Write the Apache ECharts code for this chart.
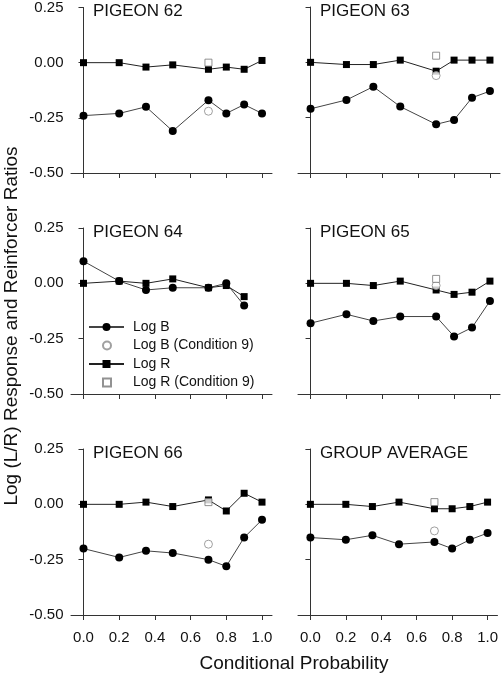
<!DOCTYPE html>
<html>
<head>
<meta charset="utf-8">
<script src="https://cdn.jsdelivr.net/npm/echarts@6/dist/echarts.min.js"></script>
<style>html,body{margin:0;padding:0;background:#fff}#c{width:501px;height:677px}</style>
</head>
<body>
<div id="c"></div>
<script>
// Conditional probability values (x)
const xVals = [0, 0.2, 0.35, 0.5, 0.7, 0.8, 0.9, 1.0];
const xTicks = [0, 0.2, 0.4, 0.6, 0.8, 1.0];
const yTicks = [-0.5, -0.25, 0, 0.25];
const panelTitles = ['PIGEON 62', 'PIGEON 63', 'PIGEON 64', 'PIGEON 65', 'PIGEON 66', 'GROUP AVERAGE'];

// Log B (response ratios)
const logB62 = [-0.24, -0.23, -0.20, -0.31, -0.17, -0.23, -0.19, -0.23];
const logB63 = [-0.21, -0.17, -0.11, -0.20, -0.28, -0.26, -0.16, -0.13];
const logB64 = [0.10, 0.01, -0.03, -0.02, -0.02, 0.00, -0.10];
const logB65 = [-0.18, -0.14, -0.17, -0.15, -0.15, -0.24, -0.20, -0.08];
const logB66 = [-0.20, -0.24, -0.21, -0.22, -0.25, -0.28, -0.15, -0.07];
const logBAvg = [-0.15, -0.16, -0.14, -0.18, -0.17, -0.20, -0.16, -0.13];

// Log R (reinforcer ratios)
const logR62 = [0.00, 0.00, -0.02, -0.01, -0.03, -0.02, -0.03, 0.01];
const logR63 = [0.00, -0.01, -0.01, 0.01, -0.04, 0.01, 0.01, 0.01];
const logR64 = [0.00, 0.01, 0.00, 0.02, -0.02, -0.01, -0.06];
const logR65 = [0.00, 0.00, -0.01, 0.01, -0.03, -0.05, -0.04, 0.01];
const logR66 = [0.00, 0.00, 0.01, -0.01, 0.02, -0.03, 0.05, 0.01];
const logRAvg = [0.00, 0.00, -0.01, 0.01, -0.02, -0.02, -0.01, 0.01];

// Condition 9 (at conditional probability 0.7)
const cond9X = 0.7;
const cond9B = [-0.22, -0.06, null, -0.01, -0.18, -0.12];
const cond9R = [0.00, 0.03, null, 0.02, 0.01, 0.01];

const logB = [logB62, logB63, logB64, logB65, logB66, logBAvg];
const logR = [logR62, logR63, logR64, logR65, logR66, logRAvg];

const rowTops = [7, 228, 449];
const gridH = 166;
const colLefts = [71, 298];
const colWidths = [201, 202];
const titleLefts = [93, 320];
const FONT = 'Liberation Sans, Arial';

const grids = [], xAxes = [], yAxes = [], series = [], titles = [];
for (let i = 0; i < 6; i++) {
  const r = Math.floor(i / 2), c = i % 2;
  grids.push({left: colLefts[c], top: rowTops[r], width: colWidths[c], height: gridH, containLabel: false});
  titles.push({text: panelTitles[i], left: titleLefts[c], top: rowTops[r] - 4, padding: 0,
    textStyle: {fontFamily: FONT, fontSize: 17, fontWeight: 'normal', color: '#111'}});
  xAxes.push({
    gridIndex: i, type: 'value', min: -0.07, max: 1.056,
    axisLine: {show: true, onZero: false, lineStyle: {color: '#333', width: 1}},
    axisTick: {show: true, length: 5, customValues: xTicks, lineStyle: {color: '#333'}},
    axisLabel: {show: r === 2, customValues: xTicks, formatter: v => v.toFixed(1), fontSize: 15,
      fontFamily: FONT, color: '#111', margin: 15},
    splitLine: {show: false}
  });
  yAxes.push({
    gridIndex: i, type: 'value', min: -0.5, max: 0.25, interval: 0.25, offset: -3.5,
    axisLine: {show: true, lineStyle: {color: '#333', width: 1}},
    axisTick: {show: true, length: 5, lineStyle: {color: '#333'}},
    axisLabel: {show: c === 0, formatter: v => v.toFixed(2), fontSize: 15,
      fontFamily: FONT, color: '#111', margin: 11},
    splitLine: {show: false}
  });
  series.push({
    name: 'Log B', type: 'line', xAxisIndex: i, yAxisIndex: i,
    data: logB[i].map((v, j) => [xVals[j], v]),
    symbol: 'circle', symbolSize: 8, showAllSymbol: true,
    itemStyle: {color: '#000'}, lineStyle: {color: '#444', width: 1}, z: 3, animation: false
  });
  series.push({
    name: 'Log R', type: 'line', xAxisIndex: i, yAxisIndex: i,
    data: logR[i].map((v, j) => [xVals[j], v]),
    symbol: 'rect', symbolSize: 7, showAllSymbol: true,
    itemStyle: {color: '#000'}, lineStyle: {color: '#222', width: 1}, z: 3, animation: false
  });
  series.push({
    name: 'Log B (Condition 9)', type: 'scatter', xAxisIndex: i, yAxisIndex: i,
    data: cond9B[i] === null ? [] : [[cond9X, cond9B[i]]],
    symbol: 'circle', symbolSize: 8,
    itemStyle: {color: '#fff', borderColor: '#888', borderWidth: 1}, z: 4, animation: false
  });
  series.push({
    name: 'Log R (Condition 9)', type: 'scatter', xAxisIndex: i, yAxisIndex: i,
    data: cond9R[i] === null ? [] : [[cond9X, cond9R[i]]],
    symbol: 'rect', symbolSize: 7,
    itemStyle: {color: '#fff', borderColor: '#777', borderWidth: 1}, z: 4, animation: false
  });
}

const legendText = {fontFamily: FONT, fontSize: 14, color: '#111'};
const chart = echarts.init(document.getElementById('c'), null, {renderer: 'canvas'});
chart.setOption({
  animation: false,
  title: titles,
  grid: grids,
  xAxis: xAxes,
  yAxis: yAxes,
  legend: [
    {
      orient: 'vertical', left: 88, top: 320, padding: 0, itemWidth: 35, itemHeight: 10, itemGap: 23,
      data: ['Log B', 'Log R'],
      textStyle: Object.assign({padding: [0, 0, 0, 4]}, legendText),
      selectedMode: false
    },
    {
      orient: 'vertical', left: 102, top: 338.5, padding: 0, itemWidth: 8, itemHeight: 8, itemGap: 23,
      data: [
        {name: 'Log B (Condition 9)', icon: 'circle'},
        {name: 'Log R (Condition 9)', icon: 'rect'}
      ],
      textStyle: Object.assign({padding: [0, 0, 0, 17]}, legendText),
      selectedMode: false
    }
  ],
  graphic: [
    {type: 'text', rotation: Math.PI / 2, x: 12, y: 326,
     style: {text: 'Log (L/R) Response and Reinforcer Ratios', fontFamily: FONT, fontSize: 19, fill: '#111', align: 'center', verticalAlign: 'middle'}},
    {type: 'text', x: 294, y: 664,
     style: {text: 'Conditional Probability', fontFamily: FONT, fontSize: 19, fill: '#111', align: 'center', verticalAlign: 'middle'}}
  ],
  series: series
});
</script>
</body>
</html>
